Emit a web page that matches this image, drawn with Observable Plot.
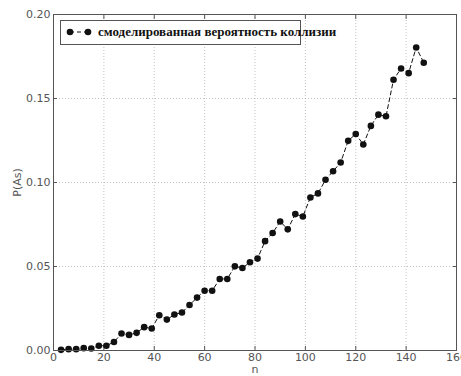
<!DOCTYPE html>
<html>
<head>
<meta charset="utf-8">
<script src="https://cdn.jsdelivr.net/npm/d3@7"></script>
<script src="https://cdn.jsdelivr.net/npm/@observablehq/plot@0.6"></script>
<style>
  html, body { margin: 0; padding: 0; background: #fff; }
  #wrap { position: relative; width: 461px; height: 376px; overflow: hidden; }
  #legend {
    position: absolute; left: 60px; top: 20px; width: 241px; height: 25px;
    border: 1px solid #555; box-sizing: border-box; background: #fff;
    overflow: visible; white-space: nowrap;
  }
  #legend svg { position: absolute; left: 0; top: 0; overflow: visible; }
  #legend span {
    position: absolute; left: 37px; top: 3px;
    font-family: "Liberation Serif", serif; font-weight: bold; font-size: 13px; color: #111;
  }
</style>
</head>
<body>
<div id="wrap"></div>
<script>
// Simulated collision probability for each sample size n
const nValues = [3, 6, 9, 12, 15, 18, 21, 24, 27, 30, 33, 36, 39, 42, 45, 48, 51, 54, 57, 60,
  63, 66, 69, 72, 75, 78, 81, 84, 87, 90, 93, 96, 99, 102, 105, 108, 111, 114, 117, 120,
  123, 126, 129, 132, 135, 138, 141, 144, 147];
const probValues = [0.0004, 0.0008, 0.0008, 0.0014, 0.0012, 0.0028, 0.0028, 0.0051, 0.0101, 0.0093,
  0.0105, 0.0139, 0.0131, 0.0210, 0.0184, 0.0214, 0.0226, 0.0271, 0.0315, 0.0356,
  0.0356, 0.0426, 0.0426, 0.0501, 0.0491, 0.0525, 0.0547, 0.0651, 0.0699, 0.0768,
  0.0721, 0.0812, 0.0798, 0.0911, 0.0935, 0.1016, 0.1067, 0.1119, 0.1248, 0.1289,
  0.1226, 0.1337, 0.1404, 0.1394, 0.1612, 0.1679, 0.1651, 0.1804, 0.1713];
const xTicks = [0, 20, 40, 60, 80, 100, 120, 140, 160];
const yTicks = [0.00, 0.05, 0.10, 0.15, 0.20];
const seriesLabel = "смоделированная вероятность коллизии";
const xLabel = "n";
const yLabel = "P(As)";

const data = nValues.map((n, i) => ({n, p: probValues[i]}));

const chart = Plot.plot({
  width: 461,
  height: 376,
  marginLeft: 53,
  marginRight: 5,
  marginTop: 14,
  marginBottom: 26,
  style: {fontFamily: "DejaVu Sans, sans-serif", fontSize: "11px", color: "#555", background: "#fff"},
  x: {domain: [0, 160]},
  y: {domain: [0, 0.20]},
  marks: [
    Plot.gridX(xTicks, {stroke: "#999", strokeOpacity: 0.6, strokeDasharray: "1,2"}),
    Plot.gridY(yTicks, {stroke: "#999", strokeOpacity: 0.6, strokeDasharray: "1,2"}),
    Plot.axisX(xTicks, {tickSize: -4, tickFormat: () => "", label: null}),
    Plot.axisX(xTicks, {anchor: "top", tickSize: -4, tickFormat: () => "", label: null}),
    Plot.axisY(yTicks, {tickSize: -4, tickFormat: () => "", label: null}),
    Plot.axisY(yTicks, {anchor: "right", tickSize: -4, tickFormat: () => "", label: null}),
    Plot.axisX(xTicks, {tickSize: 0, tickPadding: 3, tickFormat: d => String(d), label: null}),
    Plot.axisY(yTicks, {tickSize: 0, tickPadding: 3, tickFormat: d3.format(".2f"),
      label: yLabel, labelAnchor: "center", labelOffset: 40, labelArrow: "none"}),
    // x-axis title, placed under the frame
    Plot.text([xLabel], {frameAnchor: "bottom", lineAnchor: "top", dy: 15, fill: "#555",
      fontSize: 11, text: d => d}),
    Plot.line(data, {x: "n", y: "p", stroke: "#111", strokeWidth: 1, strokeDasharray: "4,3"}),
    Plot.dot(data, {x: "n", y: "p", r: 3.3, fill: "#111", stroke: "none"}),
    Plot.frame({stroke: "#555", strokeWidth: 1})
  ]
});

const wrap = document.getElementById("wrap");
wrap.appendChild(chart);

// Legend box drawn inside the plot area
const legend = document.createElement("div");
legend.id = "legend";
legend.innerHTML =
  '<svg width="40" height="24"><line x1="9" y1="11" x2="27" y2="11" stroke="#111" stroke-width="1" stroke-dasharray="4,3"/>' +
  '<circle cx="9" cy="11" r="3.3" fill="#111"/><circle cx="27" cy="11" r="3.3" fill="#111"/></svg>';
const span = document.createElement("span");
span.textContent = seriesLabel;
legend.appendChild(span);
wrap.appendChild(legend);
</script>
</body>
</html>
